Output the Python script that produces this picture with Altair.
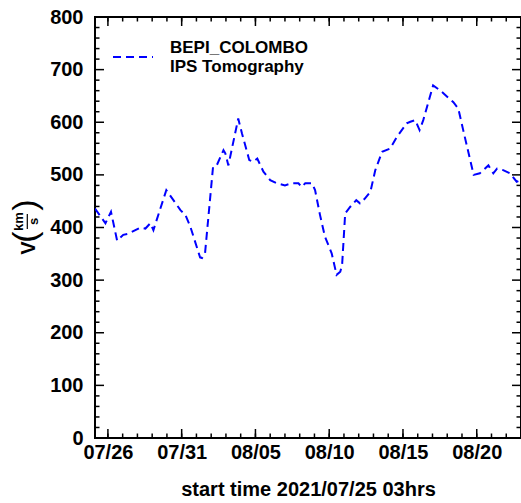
import altair as alt
import pandas as pd

# Solar-wind speed series (local time stamps, km/s)
times = [
    "2021-07-25T03:00", "2021-07-25T20:00", "2021-07-26T05:00", "2021-07-26T15:00",
    "2021-07-27T01:00", "2021-07-27T09:00", "2021-07-28T05:00", "2021-07-28T13:00",
    "2021-07-28T21:00", "2021-07-29T02:00", "2021-07-29T23:00", "2021-07-30T22:00",
    "2021-07-31T06:00", "2021-07-31T14:00", "2021-08-01T06:00", "2021-08-01T09:00",
    "2021-08-01T14:00", "2021-08-02T03:00", "2021-08-02T09:00", "2021-08-02T20:00",
    "2021-08-02T23:00", "2021-08-03T04:00", "2021-08-03T20:00", "2021-08-04T02:00",
    "2021-08-04T14:00", "2021-08-04T20:00", "2021-08-05T03:00", "2021-08-05T13:00",
    "2021-08-06T00:00", "2021-08-06T11:00", "2021-08-07T00:00", "2021-08-07T11:00",
    "2021-08-07T22:00", "2021-08-08T03:00", "2021-08-08T09:00", "2021-08-08T20:00",
    "2021-08-09T01:00", "2021-08-09T09:00", "2021-08-09T17:00", "2021-08-10T04:00",
    "2021-08-10T12:00", "2021-08-10T18:00", "2021-08-10T21:00", "2021-08-11T02:00",
    "2021-08-11T10:00", "2021-08-11T20:00", "2021-08-12T02:00", "2021-08-12T10:00",
    "2021-08-12T19:00", "2021-08-13T03:00", "2021-08-13T14:00", "2021-08-14T03:00",
    "2021-08-14T14:00", "2021-08-15T06:00", "2021-08-15T12:00", "2021-08-15T20:00",
    "2021-08-16T03:00", "2021-08-16T09:00", "2021-08-17T01:00", "2021-08-17T12:00",
    "2021-08-18T10:00", "2021-08-18T18:00", "2021-08-19T02:00", "2021-08-19T19:00",
    "2021-08-20T05:00", "2021-08-20T19:00", "2021-08-21T03:00", "2021-08-21T09:00",
    "2021-08-21T19:00", "2021-08-22T06:00", "2021-08-22T17:00", "2021-08-23T00:00",
]
speeds = [
    436, 408, 430, 375,
    386, 388, 400, 398,
    408, 395, 471, 433,
    424, 402, 343, 342,
    351, 515, 518, 547,
    541, 518, 607, 579,
    528, 525, 531, 506,
    490, 484, 480, 484,
    484, 477, 484, 484,
    471, 424, 383, 351,
    310, 316, 329, 427,
    439, 452, 446, 455,
    468, 509, 544, 550,
    572, 598, 601, 604,
    585, 604, 670, 661,
    638, 626, 585, 500,
    503, 518, 503, 512,
    509, 503, 487, 490,
]

legend_lines = ["BEPI_COLOMBO", "IPS Tomography"]
x_title = "start time 2021/07/25 03hrs"

# Tick positions
major_days = ["2021-07-26", "2021-07-31", "2021-08-05", "2021-08-10", "2021-08-15", "2021-08-20"]
minor_days = [d.strftime("%Y-%m-%d") for d in pd.date_range("2021-07-26", "2021-08-22", freq="D")]
major_v = [100, 200, 300, 400, 500, 600, 700]
minor_v = [v for v in range(20, 800, 20) if v % 100]

W, H = 426, 421
FONT = "Liberation Sans"
BLUE = "#0000ff"

df = pd.DataFrame({"t": times, "v": speeds})


def dt(s, hours=0):
    y, m, d = (int(p) for p in s.split("-"))
    return alt.DateTime(year=y, month=m, date=d, hours=hours)


X_ENC = alt.X(
    "t:T",
    scale=alt.Scale(domain=[dt("2021-07-25", 3), dt("2021-08-23")]),
    axis=alt.Axis(
        values=[dt(d) for d in major_days], format="%m/%d", ticks=False, domain=False,
        grid=False, labelFont=FONT, labelFontWeight="bold", labelFontSize=20,
        labelColor="black", labelPadding=4, labelFlush=False,
        title=x_title, titleFont=FONT, titleFontWeight="bold", titleFontSize=20,
        titleColor="black", titlePadding=17,
    ),
)
Y_ENC = alt.Y(
    "v:Q",
    scale=alt.Scale(domain=[0, 800], nice=False),
    axis=alt.Axis(
        values=[0, 100, 200, 300, 400, 500, 600, 700, 800], ticks=False, domain=False,
        grid=False, labelFont=FONT, labelFontWeight="bold", labelFontSize=20,
        labelColor="black", labelPadding=12, labelBaseline="middle", title=None,
    ),
)

line = alt.Chart(df).mark_line(
    color=BLUE, strokeWidth=2, strokeDash=[8, 5], clip=True
).encode(x=X_ENC, y=Y_ENC)


def x_ticks(days, length):
    d = pd.DataFrame({"t": [s + "T00:00" for s in days], "v": [0] * len(days)})
    bottom = alt.Chart(d).mark_rule(color="black", strokeWidth=1.5).encode(
        x=X_ENC, y=alt.value(H), y2=alt.value(H - length))
    top = alt.Chart(d).mark_rule(color="black", strokeWidth=1.5).encode(
        x=X_ENC, y=alt.value(0), y2=alt.value(length))
    return [bottom, top]


def y_ticks(vals, length):
    d = pd.DataFrame({"v": vals})
    left = alt.Chart(d).mark_rule(color="black", strokeWidth=1.5).encode(
        y=Y_ENC, x=alt.value(0), x2=alt.value(length))
    right = alt.Chart(d).mark_rule(color="black", strokeWidth=1.5).encode(
        y=Y_ENC, x=alt.value(W), x2=alt.value(W - length))
    return [left, right]


ticks = (x_ticks(minor_days, 4.5) + x_ticks(major_days, 9)
         + y_ticks(minor_v, 4.5) + y_ticks(major_v, 9))

one = pd.DataFrame({"k": [0]})

# Legend: dashed sample and two text lines
legend_rule = alt.Chart(one).mark_rule(color=BLUE, strokeWidth=2, strokeDash=[8, 5]).encode(
    x=alt.value(18), x2=alt.value(58), y=alt.value(40))
legend_text = [
    alt.Chart(one).mark_text(
        text=txt, font=FONT, fontWeight="bold", fontSize=17, align="left",
        baseline="alphabetic", color="black"
    ).encode(x=alt.value(75), y=alt.value(yy))
    for txt, yy in zip(legend_lines, [35.5, 55])
]


# Vertical y-axis title: V (km / s)
def vtext(txt, x, y, size, weight="bold"):
    return alt.Chart(one).mark_text(
        text=txt, font=FONT, fontWeight=weight, fontSize=size, angle=270,
        align="center", baseline="middle", color="black"
    ).encode(x=alt.value(x - 95), y=alt.value(y - 17))


y_title = [
    vtext("V", 29, 248, 20),
    vtext("(", 26, 237, 34, "normal"),
    vtext("km", 18.5, 221.5, 13),
    vtext("s", 34, 221.5, 13),
    vtext(")", 26, 205, 34, "normal"),
    alt.Chart(one).mark_rule(color="black", strokeWidth=1.2).encode(
        x=alt.value(27.3 - 95), y=alt.value(214 - 17), y2=alt.value(229 - 17)),
]

chart = alt.layer(line, *ticks, legend_rule, *legend_text, *y_title).properties(
    width=W, height=H,
    autosize=alt.AutoSizeParams(type="none"),
    padding={"left": 95, "top": 17, "right": 0, "bottom": 65},
    background="white",
).configure_view(stroke="black", strokeWidth=2)

chart.save("out.html", embed_options={"renderer": "svg", "actions": False})
